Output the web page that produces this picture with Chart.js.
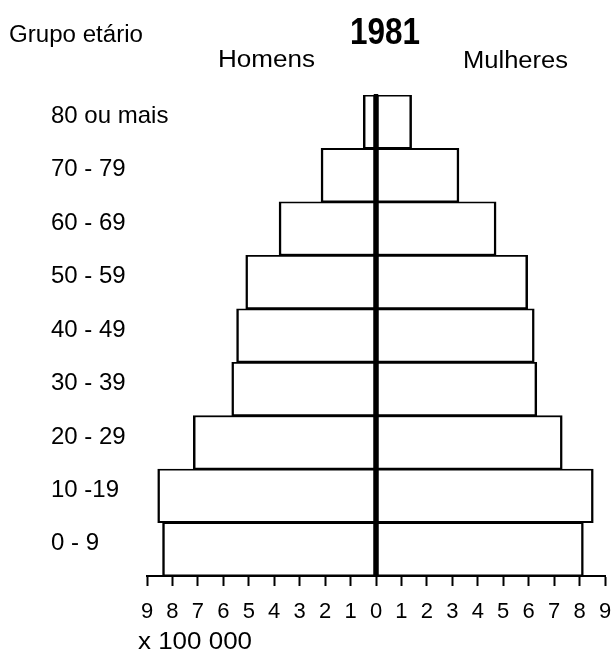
<!DOCTYPE html>
<html lang="pt">

<head>
  <meta charset="UTF-8" />
  <title>Pirâmide etária 1981</title>
  <script src="https://cdn.jsdelivr.net/npm/chart.js"></script>
  <style>
    body { margin: 0; background: #fff; }
    #wrap { width: 612px; height: 660px; }
  </style>
</head>

<body>
  <div id="wrap"><canvas id="myChart" width="612" height="660"></canvas></div>

  <script>
    /* data (x 100 000) */
    const grupos = ["80 ou mais", "70 - 79", "60 - 69", "50 - 59", "40 - 49", "30 - 39", "20 - 29", "10 -19", "0 - 9"];
    const homens = [0.5, 2.16, 3.81, 5.12, 5.48, 5.67, 7.18, 8.58, 8.39];
    const mulheres = [1.4, 3.26, 4.72, 5.96, 6.22, 6.32, 7.32, 8.54, 8.15];
    const xMin = -9;
    const xMax = 9;

    const FONT = "'Liberation Sans', Arial, sans-serif";

    // the source lettering is a bit wider than Arial, so squeeze/stretch to a width
    function fitText(c, text, x, y, w) {
      const m = c.measureText(text).width;
      c.save();
      c.translate(x, y);
      c.scale(w / m, 1);
      c.fillText(text, 0, 0);
      c.restore();
    }

    // texts around the plot, drawn on the canvas
    const extraText = {
      id: "extraText",
      afterDraw(chart) {
        const c = chart.ctx;
        c.save();
        c.fillStyle = "#000";
        c.textBaseline = "middle";

        c.font = "23px " + FONT;
        c.textAlign = "left";
        fitText(c, "Grupo etário", 9, 36, 134);
        fitText(c, "x 100 000", 138, 643, 114);

        c.textAlign = "center";
        fitText(c, "Homens", 266.5, 61, 97);
        fitText(c, "Mulheres", 515.5, 62, 105);

        c.font = "bold 37px " + FONT;
        fitText(c, "1981", 385, 34, 70);
        c.restore();
      },
    };

    // thick line at zero, over the bars
    const zeroLine = {
      id: "zeroLine",
      afterDatasetsDraw(chart) {
        const c = chart.ctx;
        const x = chart.scales.x.getPixelForValue(0);
        c.save();
        c.strokeStyle = "#000";
        c.lineWidth = 4.5;
        c.beginPath();
        c.moveTo(x, chart.chartArea.top - 1);
        c.lineTo(x, chart.chartArea.bottom);
        c.stroke();
        c.restore();
      },
    };

    const barStyle = {
      backgroundColor: "#fff",
      borderColor: "#000",
      borderWidth: { top: 1.8, bottom: 1.8, left: 2.5, right: 2.5 },
      borderSkipped: false,
      barPercentage: 1,
      categoryPercentage: 1,
    };

    var ctx = document.getElementById("myChart").getContext("2d");
    var chart = new Chart(ctx, {
      type: "bar",
      data: {
        labels: grupos,
        datasets: [
          Object.assign({ label: "Homens", data: homens.map((v) => -v) }, barStyle),
          Object.assign({ label: "Mulheres", data: mulheres }, barStyle),
        ],
      },
      options: {
        indexAxis: "y",
        responsive: false,
        animation: false,
        layout: {
          padding: { left: 51, right: 7, top: 95, bottom: 34 },
        },
        plugins: {
          legend: { display: false },
          tooltip: { enabled: false },
        },
        scales: {
          x: {
            stacked: true,
            min: xMin,
            max: xMax,
            afterFit(scale) {
              scale.height = 50;
              scale.paddingLeft = 0;
              scale.paddingRight = 0;
            },
            border: { display: true, color: "#000", width: 2 },
            grid: {
              drawOnChartArea: false,
              drawTicks: true,
              tickLength: 10,
              tickColor: "#000",
              tickWidth: 2,
            },
            ticks: {
              stepSize: 1,
              autoSkip: false,
              maxRotation: 0,
              padding: 13,
              color: "#000",
              font: { family: FONT, size: 22 },
              callback: (v) => Math.abs(v),
            },
          },
          y: {
            stacked: true,
            afterFit(scale) {
              scale.width = 96;
              scale.paddingTop = 0;
              scale.paddingBottom = 0;
            },
            border: { display: false },
            grid: { display: false, drawTicks: false },
            ticks: {
              // mirrored so the long label is not clipped; pulled back left by padding
              mirror: true,
              crossAlign: "near",
              padding: -96,
              labelOffset: -5.5,
              color: "#000",
              font: { family: FONT, size: 24 },
            },
          },
        },
      },
      plugins: [zeroLine, extraText],
    });
  </script>
</body>

</html>
